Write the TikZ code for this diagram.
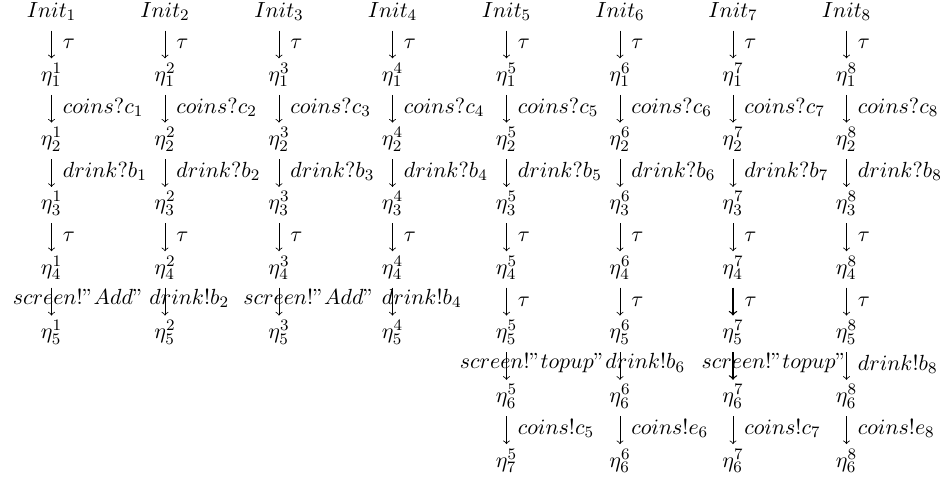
\documentclass[tikz,border=0pt]{standalone}
\newcommand\arr[5]{\draw[#1] ([yshift=-6.75pt]#2.base) -- node[#4] {#5} ([yshift=11.5pt]#3.base);}
\begin{document}
\begin{tikzpicture}[x=0.5pt,y=-0.5pt,
  font=\fontsize{10.95}{13}\selectfont,
  st/.style={anchor=base, inner sep=0pt},
  tr/.style={-{To[scale=1.25]}, line width=0.4pt},
  thicktr/.style={-{To[scale=1.1]}, line width=0.65pt},
  lbl/.style={anchor=base west, inner sep=0pt, xshift=5.5pt, yshift=-2.25pt},
  olbl/.style={anchor=base west, inner sep=0pt, yshift=-1.5pt}]
\useasboundingbox (0,0) rectangle (942,483);
% states
\foreach \x [count=\i] in {51.5,165,279,392.5,506.5,620,733,846.5} {
  \node[st] (I\i) at (\x,17) {$Init_{\i}$};
  \foreach \k in {1,...,5} {
    \node[st] (e\i-\k) at (\x,{17+64.3*\k}) {$\eta^{\i}_{\k}$};
  }
}
\foreach \x [count=\j from 5] in {506.5,620,733,846.5} {
  \node[st] (e\j-6) at (\x,{17+64.3*6}) {$\eta^{\j}_{6}$};
}
\node[st] (e5-7) at (506.5,{17+64.3*7}) {$\eta^{5}_{7}$};
\node[st] (e6-7) at (620,{17+64.3*7}) {$\eta^{6}_{6}$};
\node[st] (e7-7) at (733,{17+64.3*7}) {$\eta^{7}_{6}$};
\node[st] (e8-7) at (846.5,{17+64.3*7}) {$\eta^{8}_{6}$};
% common transitions
\foreach \i in {1,...,8} {
  \arr{tr}{I\i}{e\i-1}{lbl}{$\tau$}
  \arr{tr}{e\i-1}{e\i-2}{lbl}{$coins?c_{\i}$}
  \arr{tr}{e\i-2}{e\i-3}{lbl}{$drink?b_{\i}$}
  \arr{tr}{e\i-3}{e\i-4}{lbl}{$\tau$}
}
% columns 1-4, last step
\arr{tr}{e1-4}{e1-5}{olbl, xshift=-19.5pt}{$screen!"Add"$}
\arr{tr}{e2-4}{e2-5}{olbl, xshift=-8pt}{$drink!b_2$}
\arr{tr}{e3-4}{e3-5}{olbl, xshift=-18pt}{$screen!"Add"$}
\arr{tr}{e4-4}{e4-5}{olbl, xshift=-5.5pt}{$drink!b_4$}
% columns 5-8
\arr{tr}{e5-4}{e5-5}{lbl}{$\tau$}
\arr{tr}{e6-4}{e6-5}{lbl}{$\tau$}
\arr{thicktr}{e7-4}{e7-5}{lbl}{$\tau$}
\arr{tr}{e8-4}{e8-5}{lbl}{$\tau$}
\arr{tr}{e5-5}{e5-6}{olbl, xshift=-23.5pt}{$screen!"topup"$}
\arr{tr}{e6-5}{e6-6}{olbl, xshift=-7.5pt}{$drink!b_6$}
\arr{thicktr}{e7-5}{e7-6}{olbl, xshift=-16pt}{$screen!"topup"$}
\arr{tr}{e8-5}{e8-6}{lbl}{$drink!b_8$}
\arr{tr}{e5-6}{e5-7}{lbl}{$coins!c_5$}
\arr{tr}{e6-6}{e6-7}{lbl}{$coins!e_6$}
\arr{tr}{e7-6}{e7-7}{lbl}{$coins!c_7$}
\arr{tr}{e8-6}{e8-7}{lbl}{$coins!e_8$}
\end{tikzpicture}
\end{document}
